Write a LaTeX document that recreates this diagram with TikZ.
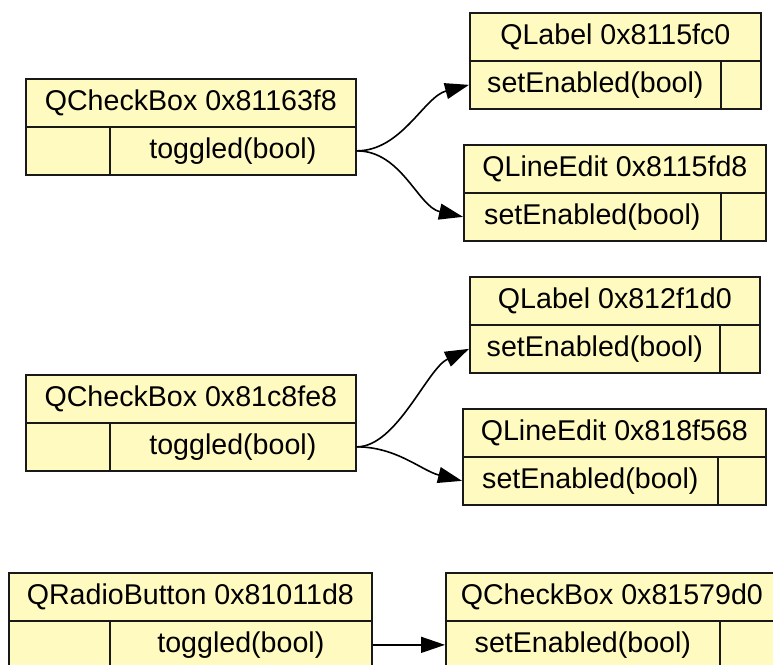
\documentclass[tikz,border=0pt]{standalone}
\usepackage{fontspec}
\setmainfont{Liberation Sans}
\usetikzlibrary{arrows.meta}
\definecolor{boxfill}{RGB}{255,251,192}
\definecolor{linec}{RGB}{25,25,25}
\newcommand\lblfont{\fontsize{28.6}{30}\selectfont}
\tikzset{
  cell/.style={draw=linec, fill=boxfill, line width=1.7pt, inner sep=0pt,
    anchor=north west, font=\lblfont, minimum height=48pt},
  edge/.style={draw=black, line width=1.6pt,
    -{Triangle[length=24pt,width=16pt]}}
}
\begin{document}
\begin{tikzpicture}[x=1pt,y=-1pt]
\useasboundingbox (0,0) rectangle (773,664);
\fill[white] (0,0) rectangle (773,664);
\clip (0,0) rectangle (773,664);
% group 1
\node[cell, minimum width=330pt] (s1t) at (25,78) {QCheckBox 0x81163f8};
\node[cell, minimum width=84pt] (s1l) at (25,126) {};
\node[cell, minimum width=246pt] (s1r) at (109,126) {toggled(bool)};
\node[cell, minimum width=291pt] (t1at) at (469,12) {QLabel 0x8115fc0};
\node[cell, minimum width=251pt] (t1al) at (469,60) {setEnabled(bool)};
\node[cell, minimum width=40pt] (t1ar) at (720,60) {};
\node[cell, minimum width=302pt] (t1bt) at (463,144) {QLineEdit 0x8115fd8};
\node[cell, minimum width=257pt] (t1bl) at (463,192) {setEnabled(bool)};
\node[cell, minimum width=45pt] (t1br) at (720,192) {};
% group 2
\node[cell, minimum width=330pt] (s2t) at (25,374) {QCheckBox 0x81c8fe8};
\node[cell, minimum width=84pt] (s2l) at (25,422) {};
\node[cell, minimum width=246pt] (s2r) at (109,422) {toggled(bool)};
\node[cell, minimum width=290pt] (t2at) at (469,276) {QLabel 0x812f1d0};
\node[cell, minimum width=250pt] (t2al) at (469,324) {setEnabled(bool)};
\node[cell, minimum width=40pt] (t2ar) at (719,324) {};
\node[cell, minimum width=303pt] (t2bt) at (462,408) {QLineEdit 0x818f568};
\node[cell, minimum width=255pt] (t2bl) at (462,456) {setEnabled(bool)};
\node[cell, minimum width=48pt] (t2br) at (717,456) {};
% group 3
\node[cell, minimum width=363pt] (s3t) at (8,572) {QRadioButton 0x81011d8};
\node[cell, minimum width=101pt] (s3l) at (8,620) {};
\node[cell, minimum width=262pt] (s3r) at (109,620) {toggled(bool)};
\node[cell, minimum width=332pt] (t3t) at (445,572) {QCheckBox 0x81579d0};
\node[cell, minimum width=274pt] (t3l) at (445,620) {setEnabled(bool)};
\node[cell, minimum width=58pt] (t3r) at (719,620) {};
% edges
\draw[edge] (s1r.east) .. controls +(45,0) and +(-45,12) .. (t1al.west);
\draw[edge] (s1r.east) .. controls +(45,0) and +(-45,-10) .. (t1bl.west);
\draw[edge] (s2r.east) .. controls +(40,0) and +(-42,20) .. (t2al.west);
\draw[edge] (s2r.east) .. controls +(40,0) and +(-40,-10) .. (t2bl.west);
\draw[edge] (s3r.east) -- (t3l.west);
\end{tikzpicture}
\end{document}
